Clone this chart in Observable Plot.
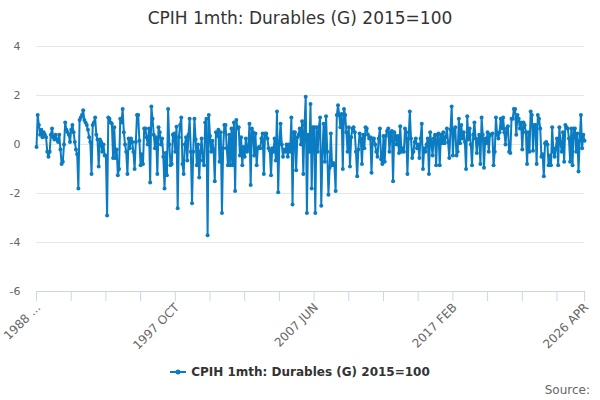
<!DOCTYPE html>
<html><head><meta charset="utf-8">
<script src="https://cdn.jsdelivr.net/npm/d3@7"></script>
<script src="https://cdn.jsdelivr.net/npm/@observablehq/plot@0.6"></script>
<style>
body{margin:0;background:#fff;font-family:"DejaVu Sans",sans-serif;}
#wrap{position:relative;width:600px;height:400px;overflow:hidden;}
#title{position:absolute;top:8px;left:0;width:600px;text-align:center;font-size:17px;color:#333;}
#legend{position:absolute;top:365px;left:0;width:600px;display:flex;justify-content:center;align-items:center;font-size:12px;font-weight:bold;color:#333;}
#legend svg{margin-right:5px;}
#source{position:absolute;top:383px;right:10px;font-size:12px;color:#666;}
</style></head><body>
<div id="wrap"><div id="chart"></div>
<div id="title"></div>
<div id="legend"></div>
<div id="source">Source:</div>
</div>
<script>
const titleText = "CPIH 1mth: Durables (G) 2015=100";
const seriesName = "CPIH 1mth: Durables (G) 2015=100";
const lineColor = "#0b7cc1";

// Monthly values, 1988 FEB .. 2026 APR
const seg1988 = [-0.1,1.2,0.8,0.4,0.6,0.3,0.5,0.4,0.3,-0.3,
 -0.5,-0.3,0.4,0.65,0.3,0.2,0.4,0.2,0.1,0.4,
 -0.2,-0.8,-0.7,0.0,0.9,0.6,0.5,0.4,0.1,0.6,
 0.8,0.5,0.1,-0.2,-0.4,-1.8,1.0,1.1,1.2,1.4,
 1.0,0.9,0.8,0.6,0.3,0.1,-1.2,0.8,0.9,1.1,
 0.4,0.2,-0.9,0.2];
const seg1992 = [0.1,-0.3,0.0,-0.45,-0.45,-2.9,1.1,1.05,0.9,0.85,
 -0.55,0.7,-0.55,-0.2,-1.25,-1.0,1.05,0.9,1.45,0.5,
 0.0,-0.3,-1.2,0.25,-0.15,0.25,0.1,-0.3,-1.0,0.1,
 1.2,1.2,0.15,-0.85,-0.4,-0.8,0.65,0.65,0.3,0.0,
 0.65,-1.55,1.55,1.05,0.4,-0.15,0.3,-1.2,0.7,0.5,
 0.0,0.25,-0.5,-1.8,-0.35,-1.25,1.45];
const seg1997 = [0.0,-0.85,-0.8,0.4,0.45,-0.3,0.72,-2.6,0.3,0.8,
 1.1,-0.8,-1.2,0.0,0.3,-0.65,0.4,1.05,-0.3,-2.4,
 -0.3,1.05,0.2,-0.85,0.0,-1.35,-0.3,0.25,-0.65,-0.85,
 0.9,1.05,-3.7,1.2,0.35,-0.3,0.15,-0.2,-1.5,0.5,
 0.35,0.6,-0.7,0.5,-2.8,-0.15,0.8,0.8,-0.15,-0.85,
 0.4,-0.85,0.65,-0.85,0.9,-1.9,1.0];
const seg2002 = [0.65,0.7,-0.45,0.3,-0.85,-0.1,-0.5,0.25,-0.3,-0.15,
 0.85,-1.65,0.65,0.5,-0.45,0.45,-0.85,-0.15,-0.1,-0.15,
 0.25,0.45,-1.2,0.45,0.45,0.25,-0.15,-0.25,-1.25,-0.15,
 -0.3,0.25,-0.65,1.35,-1.95,0.1,0.85,0.0,-0.5,-0.2,
 -0.3,0.0,-0.5,0.0,-0.3,1.1,-2.45,0.5,0.5,-1.05,
 0.3,0.4,0.65,0.0,0.95,-1.2,0.8];
const seg2006 = [1.95,-2.8,0.4,-0.3,1.65,-1.8,0.7,0.7,-2.8,0.7,
 -0.3,0.7,1.1,-2.5,-0.3,0.85,-0.7,1.15,-0.3,-2.05,
 -0.95,0.45,-0.85,-0.75,-0.85,-1.9,1.2,1.6,1.2,0.7,
 1.25,-1.0,1.45,1.2,0.5,-0.3,0.7,-0.9,0.3,0.65,
 0.7,0.5,-0.3,-1.3,-0.2,0.45,0.25,-0.8,0.4,-0.15,
 0.7,0.65,0.4,0.25,0.3,-1.15,0.25];
const seg2011 = [0.25,0.0,-0.3,-0.5,0.25,0.65,-0.6,-0.8,0.35,-0.7,
 0.35,0.55,0.65,-0.3,0.5,0.55,-1.5,0.5,0.35,0.0,
 0.35,-0.35,0.75,-0.3,-0.15,-0.3,0.65,0.5,-1.2,0.25,
 1.35,0.25,-0.55,-0.3,0.1,0.25,-0.15,0.0,-0.55,0.25,
 0.85,-1.0,-0.15,-0.3,0.0,0.25,-1.2,0.5,0.1,-0.45,
 0.25,0.4,-0.85,0.4,0.45];
const seg2016 = [-0.85,0.4,0.05,0.5,0.05,0.3,0.65,0.1,-0.55,0.6,
 1.55,-0.45,0.6,0.7,-0.45,-0.3,1.05,0.05,0.8,0.25,
 0.5,0.1,-1.0,1.15,0.2,0.65,0.0,-0.85,0.4,0.9,
 0.25,-0.35,0.2,0.4,-0.8,1.1,0.4,-0.95,0.25,0.05,
 0.5,-0.3,0.4,0.4,0.45,-0.85,-0.3,1.1,0.4,0.25,
 0.5,1.05,0.65,1.1,0.5,0.0,0.65,0.75,-0.3];
const seg2021 = [-0.35,1.05,1.05,1.45,1.45,0.4,1.2,1.05,0.65,0.9,
 -0.2,0.9,0.8,0.5,-0.8,0.5,-0.3,1.35,1.2,-0.25,
 0.8,0.8,-0.8,1.2,1.05,0.65,-0.5,-0.4,-1.3,0.05,
 0.1,0.0,-0.85,-0.45,-0.85,0.7,-0.3,-0.5,-0.15,0.25,
 -0.85,0.7,0.05,-0.3,0.5,-0.7,0.8,0.7,0.65,0.25,
 -0.7,0.65,-0.85,0.65,0.65,-0.3,0.45,-1.1,0.15,1.2,
 -0.15,0.4,0.15];

const values = [].concat(seg1988, seg1992, seg1997, seg2002, seg2006, seg2011, seg2016, seg2021);
const monthNames = ["JAN","FEB","MAR","APR","MAY","JUN","JUL","AUG","SEP","OCT","NOV","DEC"];
const startYear = 1988, startMonth = 1;
const data = values.map((v, i) => {
  const m = startMonth + i;
  return {i, v, label: (startYear + Math.floor(m / 12)) + " " + monthNames[m % 12]};
});

const xTickIndex = d3.range(0, values.length - 1, 29).concat([values.length - 1]);
const xLabelIndex = [0, 116, 232, 348, 458];
const xLabelText = ["1988 ...", "1997 OCT", "2007 JUN", "2017 FEB", "2026 APR"];
const yTicks = [-6, -4, -2, 0, 2, 4];

document.getElementById("title").textContent = titleText;
document.getElementById("legend").innerHTML =
  `<svg width="16" height="12"><line x1="0" y1="6" x2="16" y2="6" stroke="${lineColor}" stroke-width="2"/><circle cx="8" cy="6" r="2.5" fill="${lineColor}"/></svg><span>${seriesName}</span>`;

const chart = Plot.plot({
  width: 600, height: 400,
  marginTop: 46, marginBottom: 109, marginLeft: 36, marginRight: 16,
  style: {fontFamily: "DejaVu Sans, sans-serif", background: "transparent", overflow: "visible"},
  x: {type: "linear", domain: [0, values.length - 1], axis: null, label: null},
  y: {domain: [-6, 4], axis: null, label: null},
  marks: [
    Plot.ruleY(yTicks.filter(t => t > -6), {stroke: "#e6e6e6", strokeOpacity: 1}),
    Plot.axisX({ticks: xTickIndex, tickSize: 10, tickFormat: () => "", label: null, stroke: "#ccd6eb", strokeOpacity: 1}),
    Plot.ruleY([-6], {stroke: "#ccd6eb", strokeOpacity: 1}),
    Plot.text(yTicks, {x: () => 0, y: d => d, text: d => String(d), textAnchor: "end", dx: -16, fill: "#666", fontSize: 11}),
    Plot.text(xLabelIndex.map((d, k) => ({i: d, t: xLabelText[k]})),
      {x: "i", y: () => -6, text: "t", rotate: -45, textAnchor: "end", dx: 2, dy: 14, fill: "#666", fontSize: 12}),
    Plot.line(data, {x: "i", y: "v", stroke: lineColor, strokeWidth: 2}),
    Plot.dot(data, {x: "i", y: "v", r: 2, fill: lineColor, stroke: "none"})
  ]
});
document.getElementById("chart").appendChild(chart);
</script>
</body></html>
